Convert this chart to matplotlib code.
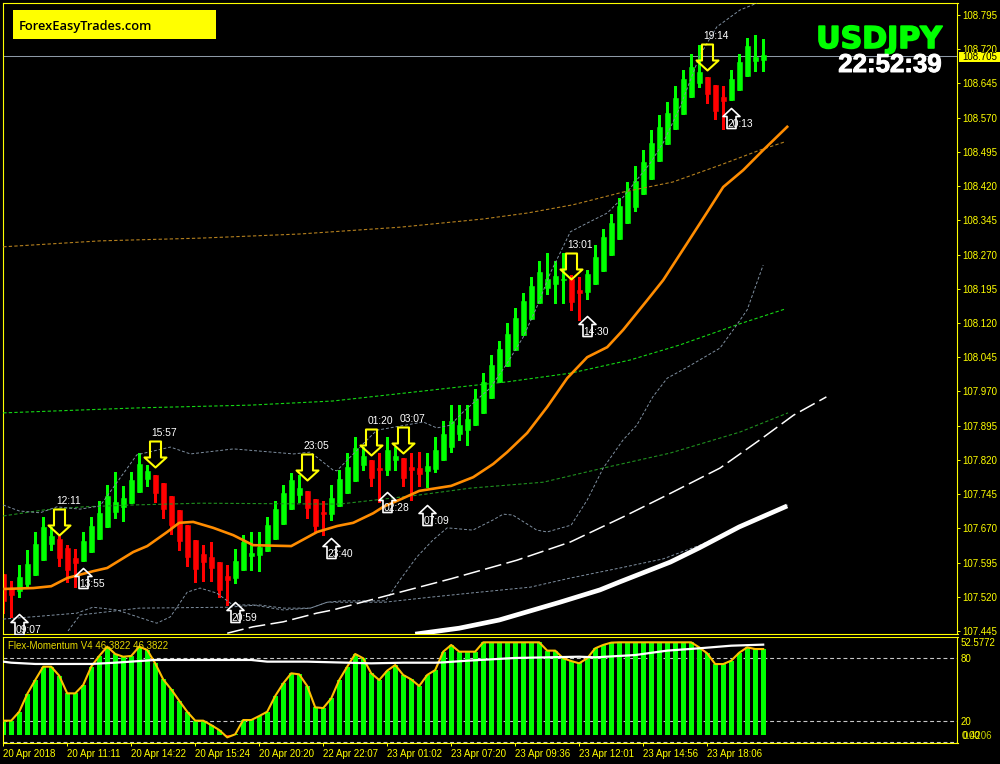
import matplotlib
matplotlib.use("Agg")
import matplotlib.pyplot as plt
import matplotlib.patheffects as pe
from matplotlib.path import Path
from matplotlib.patches import Rectangle

plt.rcParams['font.family'] = ['Liberation Sans', 'DejaVu Sans']

# ---- candles (open, high, low, close) ----
opens = [107.570,107.539,107.533,107.548,107.568,107.600,107.636,107.646,107.627,107.605,
         107.598,107.618,107.646,107.673,107.706,107.717,107.725,107.750,107.778,107.787,
         107.769,107.741,107.710,107.677,107.644,107.614,107.607,107.596,107.565,107.561,
         107.579,107.609,107.611,107.620,107.646,107.679,107.712,107.743,107.752,107.734,
         107.706,107.701,107.719,107.747,107.774,107.809,107.820,107.802,107.798,107.820,
         107.824,107.804,107.802,107.796,107.800,107.820,107.848,107.877,107.885,107.896,
         107.923,107.956,107.991,108.026,108.061,108.094,108.129,108.164,108.197,108.206,
         108.215,108.216,108.192,108.188,108.206,108.234,108.269,108.304,108.339,108.374,
         108.403,108.436,108.475,108.512,108.545,108.578,108.615,108.646,108.659,108.642,
         108.615,108.609,108.631,108.661,108.694,108.697]
highs = [107.570,107.554,107.590,107.622,107.662,107.695,107.673,107.653,107.633,107.625,
         107.662,107.695,107.730,107.765,107.793,107.763,107.793,107.835,107.809,107.787,
         107.769,107.741,107.710,107.677,107.644,107.633,107.640,107.596,107.590,107.625,
         107.655,107.662,107.662,107.695,107.730,107.765,107.791,107.787,107.752,107.734,
         107.730,107.765,107.798,107.835,107.870,107.848,107.820,107.835,107.870,107.848,
         107.824,107.835,107.837,107.835,107.870,107.905,107.940,107.940,107.940,107.975,
         108.010,108.050,108.080,108.120,108.153,108.186,108.221,108.256,108.273,108.256,
         108.273,108.225,108.221,108.236,108.291,108.326,108.359,108.394,108.429,108.464,
         108.499,108.543,108.576,108.604,108.640,108.675,108.710,108.729,108.659,108.642,
         108.640,108.675,108.710,108.745,108.751,108.743]
lows = [107.484,107.476,107.519,107.539,107.568,107.600,107.622,107.587,107.552,107.541,
        107.598,107.618,107.646,107.673,107.692,107.686,107.725,107.750,107.763,107.728,
        107.692,107.657,107.622,107.587,107.552,107.554,107.554,107.519,107.502,107.550,
        107.579,107.579,107.576,107.620,107.646,107.679,107.712,107.728,107.692,107.662,
        107.655,107.688,107.719,107.747,107.774,107.798,107.763,107.728,107.787,107.798,
        107.763,107.732,107.763,107.760,107.793,107.820,107.837,107.863,107.853,107.896,
        107.923,107.956,107.991,108.026,108.061,108.094,108.129,108.164,108.184,108.164,
        108.164,108.149,108.127,108.173,108.206,108.234,108.269,108.304,108.339,108.366,
        108.403,108.436,108.475,108.512,108.545,108.578,108.615,108.637,108.602,108.567,
        108.545,108.609,108.631,108.661,108.672,108.672]
closes = [107.511,107.524,107.563,107.592,107.636,107.673,107.653,107.605,107.579,107.594,
          107.642,107.675,107.704,107.741,107.728,107.736,107.776,107.811,107.796,107.747,
          107.712,107.677,107.642,107.607,107.581,107.596,107.583,107.535,107.557,107.598,
          107.640,107.616,107.629,107.677,107.712,107.747,107.776,107.758,107.714,107.675,
          107.701,107.736,107.778,107.804,107.846,107.828,107.780,107.798,107.842,107.828,
          107.780,107.798,107.789,107.806,107.842,107.877,107.905,107.896,107.910,107.953,
          107.991,108.028,108.063,108.096,108.131,108.168,108.201,108.232,108.216,108.223,
          108.216,108.166,108.186,108.227,108.265,108.309,108.339,108.376,108.409,108.431,
          108.473,108.515,108.550,108.580,108.613,108.655,108.681,108.670,108.622,108.585,
          108.607,108.655,108.692,108.727,108.703,108.707]

# ---- overlay indicator lines: bar position, price ----
orange_x = [0,3.75,6,8,11.25,13,16.25,18,20.5,22,23.75,26.25,28.75,31.25,36,39.25,41.75,43.75,46.25,47.5,
            50,52,56,58.75,61.25,63,65.5,68,70.5,73,75.5,77.5,80.5,82.5,85.5,88,90,92.5,95,98]
orange_y = [107.537,107.539,107.543,107.561,107.576,107.583,107.618,107.631,107.662,107.682,107.684,107.671,
            107.655,107.633,107.631,107.662,107.675,107.682,107.703,107.717,107.736,107.752,107.763,107.782,
            107.811,107.837,107.879,107.936,107.999,108.045,108.067,108.105,108.170,108.214,108.295,108.363,
            108.418,108.455,108.499,108.550]
thick_x = [51.5,57,62,69.6,74.6,77,83.4,87,92,98]
thick_y = [107.438,107.451,107.469,107.508,107.535,107.552,107.596,107.627,107.673,107.719]
upper_x = [0,2,4.6,6.7,9.6,12.1,16.7,20.9,23.4,28.8,36.3,38.4,41.2,41.7,45.5,46.7,52.5,54.2,55.9,57.5,60.9,63,65,
           66.7,68.4,70.9,73,75.5,77.5,80.9,82.5,84.6,87.1,89.2,92.1,94.2]
upper_y = [107.721,107.708,107.704,107.717,107.712,107.719,107.831,107.848,107.833,107.844,107.833,107.837,107.798,
           107.796,107.864,107.885,107.903,107.890,107.896,107.925,107.978,108.032,108.089,108.155,108.230,108.320,
           108.339,108.361,108.396,108.471,108.515,108.593,108.707,108.769,108.806,108.821]
lower_x = [0,3.7,9.2,11.2,14.2,19.2,20.9,23,24.6,26.7,28.7,31.2,35,38.4,40.5,42.4,47.8,49.6,51.7,53.7,55.5,58.7,61.2,
           62.5,63.7,66.7,68,71,73,75,77.5,79.2,81.2,83,85.5,89.6,91.7,93,95]
lower_y = [107.471,107.476,107.484,107.497,107.491,107.462,107.476,107.530,107.539,107.528,107.502,107.502,107.491,
           107.495,107.508,107.511,107.511,107.557,107.607,107.644,107.671,107.666,107.688,107.701,107.699,107.666,
           107.662,107.677,107.732,107.802,107.864,107.896,107.958,107.999,108.023,108.065,108.116,108.149,108.247]
slow_x = [8.1,9.6,17,28,32,35,38.4,40.5,47.7,53.4,58.4,65.9,70.9,77.1,82.5,87.1,92.1,98.1]
slow_y = [107.445,107.480,107.495,107.497,107.502,107.495,107.495,107.508,107.508,107.519,107.528,107.541,107.561,
          107.583,107.603,107.633,107.673,107.721]
white_x = [28,31.2,35,39.2,41.2,49.6,55.9,64.2,70.9,77.5,83,89.6,94.6,98.8,102.9]
white_y = [107.440,107.454,107.465,107.484,107.491,107.530,107.559,107.600,107.640,107.695,107.743,107.802,107.864,
           107.918,107.958]
lime_x = [0,17,30.9,41.2,50.5,59.2,63,70.9,78.4,84.6,91.7,97.8]
lime_y = [107.923,107.934,107.940,107.949,107.967,107.984,107.991,108.010,108.039,108.072,108.116,108.151]
dgreen_x = [0,5,10,16,24.6,42,52,58.4,67.5,75,83.4,92.1,98.1]
dgreen_y = [107.697,107.710,107.717,107.721,107.725,107.723,107.743,107.758,107.771,107.802,107.835,107.881,107.923]
tan_x = [0,12.1,24.6,37,49.6,60,65.5,71.2,77.5,83.7,89.6,94.6,97.7]
tan_y = [108.287,108.300,108.306,108.315,108.330,108.348,108.361,108.379,108.407,108.429,108.466,108.499,108.517]

# ---- signal arrows ----
down_bars = [7,19,38,46,50,71,88]
down_price = [107.655,107.804,107.776,107.831,107.835,108.216,108.675]
down_text = ['12:11','15:57','23:05','01:20','03:07','13:01','19:14']
up_bars = [2,10,29,41,48,53,73,91]
up_price = [107.482,107.583,107.508,107.649,107.750,107.721,108.135,108.591]
up_text = ['09:07','13:55','20:59','23:40','02:28','07:09','14:30','20:13']

price_now = 108.705
price_ticks = [107.445,107.520,107.595,107.670,107.745,107.820,107.895,107.970,108.045,108.120,
               108.195,108.270,108.345,108.420,108.495,108.570,108.645,108.720,108.795]

# ---- momentum pane ----
momentum = [20.8,20.8,29.3,46.2,59.5,72.2,72.2,63.6,46.8,46.8,54.8,72.2,82.4,91.3,84.3,81.7,82.4,91.3,88.1,75.4,
            60.1,50.6,39.8,29.3,20.8,20.8,16.6,11.9,4.9,7.8,21.4,21.4,25.2,29.3,44.3,56.3,65.9,64.9,53.8,33.5,
            32.8,42.0,59.5,72.2,84.3,80.2,65.9,59.5,68.4,73.8,64.3,60.1,53.8,64.3,69.0,86.5,92.9,86.5,86.5,86.5,
            95.4,95.4,95.4,95.4,95.4,95.4,95.4,95.4,87.5,87.5,80.2,77.6,75.4,80.2,89.7,92.9,95.1,95.4,95.4,95.4,
            95.4,95.4,95.4,95.4,95.4,95.4,95.4,90.6,84.9,74.7,74.7,77.9,85.5,90.6,89.0,89.0]
signal_x = [0,1,4,11,14,19,31,33,38,46,50,54,55,58,61,64,72,74,79,83,87,91,95]
signal_y = [77,76,74.8,74.8,76,78.6,78.6,77,77,75.4,76,76,76.3,77.9,79.2,80.5,81.7,81.1,83.3,87.5,89.7,92.2,93.2]
bar_base = 7.1
levels = [80,20,0]
date_ticks = [0,8,16,24,32,40,48,56,64,72,80,88]
date_labels = ['20 Apr 2018','20 Apr 11:11','20 Apr 14:22','20 Apr 15:24','20 Apr 20:20','22 Apr 22:07',
               '23 Apr 01:02','23 Apr 07:20','23 Apr 09:36','23 Apr 12:01','23 Apr 14:56','23 Apr 18:06']

YEL = '#ffff00'
GRN = '#00ff00'
RED = '#ff0000'
GREY = '#7f8fa0'
W, H = 1000, 764
fig = plt.figure(figsize=(10, 7.64), dpi=100, facecolor='black')

def box(l, t, r, b):
    return [l/W, (H-b)/H, (r-l)/W, (b-t)/H]

ax = fig.add_axes(box(2.5, 2.5, 957.5, 634), facecolor='black')
pn = fig.add_axes(box(2.5, 636.5, 957.5, 743), facecolor='black')
xlim = (-0.09, 119.29)
ax.set_xlim(*xlim)
ax.set_ylim(107.4383, 108.8225)
pn.set_xlim(*xlim)
pn.set_ylim(-0.48, 100.95)

for a in (ax, pn):
    for s in a.spines.values():
        s.set_color(YEL)
        s.set_linewidth(0.8)

# candles
body_w = 0.66
for i, (o, h, l, c) in enumerate(zip(opens, highs, lows, closes)):
    col = GRN if c >= o else RED
    ax.vlines(i, l, h, color=col, lw=0.75, zorder=2, antialiased=False)
    ax.bar(i, max(abs(c-o), 0.0022), bottom=min(o, c), width=body_w, color=col, ec=col, lw=0.4, zorder=2.1)

# overlays
ax.axhline(price_now, color='#8d99a6', lw=0.75, zorder=1.5)
dash = (0, (3, 2))
ax.plot(tan_x, tan_y, color='#b5801e', lw=0.8, ls=dash, zorder=3)
ax.plot(lime_x, lime_y, color='#14d814', lw=0.8, ls=dash, zorder=3)
ax.plot(dgreen_x, dgreen_y, color='#1f8f1f', lw=0.8, ls=dash, zorder=3)
ax.plot(upper_x, upper_y, color=GREY, lw=0.7, ls=dash, zorder=3)
ax.plot(lower_x, lower_y, color=GREY, lw=0.7, ls=dash, zorder=3)
ax.plot(slow_x, slow_y, color=GREY, lw=0.7, ls=dash, zorder=3)
ax.plot(white_x, white_y, color='white', lw=1.1, ls=(0, (11, 3.5)), zorder=3)
ax.plot(thick_x, thick_y, color='white', lw=3.4, zorder=3.2, solid_capstyle='butt')
ax.plot(orange_x, orange_y, color='#ff8c00', lw=1.9, zorder=3.4)

# arrows: custom markers with their tip at the data point
down_m = Path([(0,0),(11,10),(5.5,10),(5.5,26),(-5.5,26),(-5.5,10),(-11,10),(0,0)], closed=True)
up_m = Path([(0,0),(8.5,-8),(4.5,-8),(4.5,-20),(-4.5,-20),(-4.5,-8),(-8.5,-8),(0,0)], closed=True)
ax.plot(down_bars, down_price, ls='', marker=down_m, ms=2*26*0.72, mfc='none', mec=YEL, mew=1.5, zorder=4)
ax.plot(up_bars, up_price, ls='', marker=up_m, ms=2*20*0.72, mfc='none', mec='white', mew=1.2, zorder=4)
for b, p, t in zip(down_bars, down_price, down_text):
    ax.annotate(t, (b, p), xytext=(9, 34), textcoords='offset pixels', ha='center', va='center',
                color='white', fontsize=7.4, zorder=5)
for b, p, t in zip(up_bars, up_price, up_text):
    ax.annotate(t, (b, p), xytext=(9, -16), textcoords='offset pixels', ha='center', va='center',
                color='white', fontsize=7.4, zorder=5, annotation_clip=False)

# price axis
ax.yaxis.tick_right()
ax.set_yticks(price_ticks)
ax.set_yticklabels([f'{v:.3f}' for v in price_ticks])
ax.tick_params(axis='y', colors=YEL, labelcolor=YEL, labelsize=7, length=2.5, width=0.7, pad=1)
ax.set_xticks([])

# current price box
fig.add_artist(Rectangle((959/W, (H-62)/H), 41/W, 10/H, transform=fig.transFigure, color=YEL, lw=0, zorder=6))
fig.text(980/W, 1-57/H, f'{price_now:.3f}', color='black', fontsize=7, ha='center', va='center', zorder=7)

# logo and headers
fig.add_artist(Rectangle((13/W, (H-39)/H), 203/W, 29/H, transform=fig.transFigure, color=YEL, lw=0, zorder=6))
fig.text(19/W, 1-26.5/H, 'ForexEasyTrades.com', color='black', fontsize=9.3, family='Open Sans', weight=600,
         ha='left', va='center', zorder=7)
fig.text(942/W, 1-39.5/H, 'USDJPY', color=GRN, fontsize=21.6, family='DejaVu Sans', weight='bold', ha='right',
         va='center', zorder=7, path_effects=[pe.withStroke(linewidth=1.2, foreground=GRN)])
fig.text(942/W, 1-65/H, '22:52:39', color='white', fontsize=18.6, weight='bold', ha='right', va='center', zorder=7,
         path_effects=[pe.withStroke(linewidth=0.7, foreground='white')])

# momentum pane
colors = [GRN if m >= bar_base else RED for m in momentum]
pn.bar(range(len(momentum)), [m-bar_base for m in momentum], bottom=bar_base, width=body_w, color=colors, lw=0, zorder=2)
pn.plot(range(len(momentum)), momentum, color='#ffc000', lw=1.5, zorder=3)
pn.plot(signal_x, signal_y, color='white', lw=1.6, zorder=3.2)
for lv in levels:
    pn.axhline(lv, color='#c8c8c8', lw=0.8, ls=(0, (3.5, 2.5)), zorder=1.5)
pn.yaxis.tick_right()
pn.set_yticks([80, 20])
pn.set_yticklabels(['80', '20'])
pn.tick_params(axis='y', colors=YEL, labelcolor=YEL, labelsize=7, length=0, pad=2)
pn.set_xticks(date_ticks)
pn.set_xticklabels(date_labels, ha='left')
pn.tick_params(axis='x', colors=YEL, labelcolor=YEL, labelsize=7, length=2.5, width=0.7, pad=2)
fig.text(8/W, 1-646/H, 'Flex-Momentum V4 46.3822 46.3822', color='#e6d800', fontsize=7, ha='left', va='center', zorder=7)
fig.text(961/W, 1-643.5/H, '52.5772', color=YEL, fontsize=7, ha='left', va='center')
fig.text(963/W, 1-736/H, '0.4206', color='#c8d400', fontsize=7, ha='left', va='center')
fig.text(962/W, 1-736/H, '0.00', color=YEL, fontsize=7, ha='left', va='center')

fig.savefig('out.png', dpi=100, facecolor='black')
